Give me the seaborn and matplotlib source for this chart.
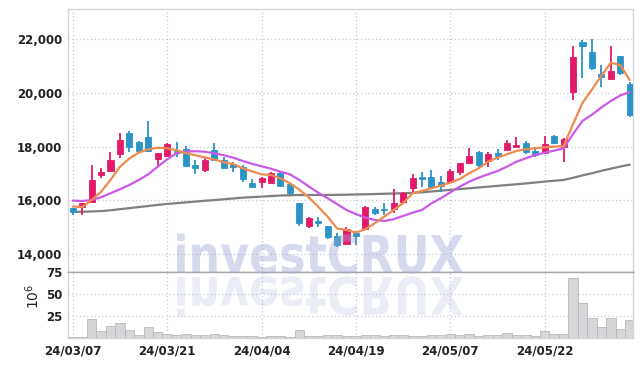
import numpy as np
import matplotlib
matplotlib.use('Agg')
import matplotlib.pyplot as plt
import seaborn as sns
from matplotlib import font_manager
from matplotlib.textpath import TextPath
from matplotlib.patches import PathPatch
from matplotlib.font_manager import FontProperties
from matplotlib.transforms import Affine2D, IdentityTransform

# trading days shown (yy/mm/dd)
dates = ['24/03/07', '24/03/08', '24/03/11', '24/03/12', '24/03/13', '24/03/14', '24/03/15',
         '24/03/18', '24/03/19', '24/03/20', '24/03/21', '24/03/22', '24/03/25', '24/03/26',
         '24/03/27', '24/03/28', '24/03/29', '24/04/01', '24/04/02', '24/04/03', '24/04/04',
         '24/04/05', '24/04/08', '24/04/09', '24/04/11', '24/04/12', '24/04/15', '24/04/16',
         '24/04/17', '24/04/18', '24/04/19', '24/04/22', '24/04/23', '24/04/24', '24/04/25',
         '24/04/26', '24/04/29', '24/04/30', '24/05/02', '24/05/03', '24/05/07', '24/05/08',
         '24/05/09', '24/05/10', '24/05/13', '24/05/14', '24/05/16', '24/05/17', '24/05/20',
         '24/05/21', '24/05/22', '24/05/23', '24/05/24', '24/05/27', '24/05/28', '24/05/29',
         '24/05/30', '24/05/31', '24/06/03', '24/06/04']

opens = [15720, 15740, 15930, 16950, 17110, 17720, 18500, 18160, 18350, 17530,
         17670, 17830, 17900, 17320, 17140, 17880, 17500, 17340, 17230, 16640,
         16700, 16640, 17010, 16600, 15890, 15050, 15230, 15045, 14670, 14380,
         14800, 14930, 15680, 15680, 15670, 15950, 16470, 16880, 16880, 16670,
         16670, 17050, 17380, 17790, 17470, 17750, 17880, 17980, 18130, 17840,
         17750, 18400, 17980, 20050, 21910, 21530, 20700, 20510, 21380, 20330]
closes = [15570, 15890, 16760, 17050, 17500, 18250, 18000, 17850, 17850, 17750,
          18090, 17800, 17290, 17220, 17520, 17500, 17220, 17250, 16790, 16510,
          16850, 17010, 16550, 16260, 15150, 15330, 15170, 14620, 14340, 14920,
          14670, 15740, 15540, 15650, 15910, 16260, 16850, 16800, 16510, 16550,
          17090, 17380, 17650, 17320, 17720, 17650, 18130, 18060, 17810, 17690,
          18090, 18130, 18290, 21330, 21760, 20930, 20600, 20810, 20760, 19180]
highs = [15730, 15900, 17320, 17200, 17810, 18500, 18600, 18210, 18960, 17760,
         18150, 18190, 18010, 17500, 17570, 18130, 17600, 17420, 17300, 16800,
         16860, 17070, 17050, 16700, 15900, 15390, 15390, 15060, 14770, 15000,
         14840, 15800, 15770, 15910, 16410, 16300, 16970, 17050, 17130, 16920,
         17170, 17390, 17940, 17840, 17790, 17900, 18250, 18370, 18210, 18000,
         18400, 18440, 18310, 21760, 21980, 22000, 21040, 21760, 21390, 20420]
lows = [15450, 15460, 15900, 16820, 17100, 17590, 17790, 17810, 17810, 17250,
        17660, 17630, 17250, 16970, 17050, 17460, 17190, 17070, 16700, 16470,
        16470, 16630, 16530, 16190, 15060, 14980, 15020, 14550, 14280, 14370,
        14340, 14920, 15460, 15460, 15540, 15940, 16320, 16510, 16470, 16300,
        16640, 16950, 17370, 17255, 17255, 17500, 17870, 17970, 17730, 17630,
        17740, 18090, 17440, 19740, 20550, 20870, 20210, 20480, 20680, 19090]

# moving averages
ma5 = [15770, 15750, 16010, 16320, 16760, 17250, 17560, 17780, 17900, 17960,
       17940, 17870, 17760, 17680, 17600, 17520, 17420, 17350, 17195, 17080,
       16970, 16945, 16820, 16636, 16400, 16115, 15765, 15392, 14950, 14900,
       14800, 14921, 15145, 15392, 15641, 15900, 16264, 16350, 16450, 16547,
       16659, 16797, 17009, 17195, 17441, 17590, 17717, 17840, 17903, 17940,
       17977, 18000, 18026, 18840, 19630, 20130, 20640, 21130, 21040, 20480]
ma10 = [15990, 15975, 16010, 16115, 16264, 16413, 16573, 16759, 16971, 17255,
        17530, 17754, 17820, 17830, 17810, 17754, 17680, 17590, 17470, 17360,
        17270, 17180, 17068, 16971, 16760, 16520, 16286, 16077, 15860, 15641,
        15490, 15355, 15269, 15230, 15300, 15420, 15540, 15641, 15891, 16077,
        16301, 16510, 16696, 16845, 16971, 17095, 17255, 17441, 17567, 17691,
        17776, 17851, 17940, 18470, 18960, 19190, 19460, 19700, 19910, 20030]
ma_long = [15570, 15575, 15585, 15600, 15630, 15670, 15710, 15750, 15790, 15830,
           15865, 15895, 15925, 15955, 15985, 16010, 16040, 16070, 16100, 16120,
           16140, 16160, 16180, 16190, 16200, 16200, 16200, 16200, 16205, 16210,
           16220, 16225, 16235, 16245, 16255, 16265, 16280, 16300, 16330, 16360,
           16390, 16420, 16450, 16480, 16510, 16540, 16570, 16600, 16630, 16665,
           16700, 16730, 16760, 16840, 16930, 17010, 17100, 17180, 17260, 17330]

# volume, millions of shares
volume = [1, 1, 22, 8, 14, 17, 9, 4, 13, 7,
          5, 4, 5, 4, 3.5, 4.6, 3.5, 2.5, 2.5, 2, 1.5,
          2.5, 2, 1.5, 9, 2.5, 2, 3.5, 3, 2.5,
          2, 3.5, 3, 2.5, 3.5, 3, 2.5, 2, 4, 3,
          4.6, 3.5, 4.6, 2.5, 3.5, 3.5, 6, 3.5, 3.5, 2.5,
          8, 4.6, 4.6, 68.6, 39.5, 23.2, 13, 23.2, 10.5, 21]

up_color = '#e3196a'
down_color = '#2b94c7'
grid_color = '#c5c9dc'
text_color = '#222222'

names = {f.name for f in font_manager.fontManager.ttflist}
if 'Liberation Sans Narrow' in names:
    tick_font, tick_size = 'Liberation Sans Narrow', 11
else:
    tick_font, tick_size = 'DejaVu Sans', 8.5

sns.set_style('white')

fig = plt.figure(figsize=(6.42, 3.66), dpi=100)
W, H = 642, 366
ax = fig.add_axes([68 / W, (H - 272) / H, 565 / W, 263 / H])
axv = fig.add_axes([68 / W, (H - 338) / H, 565 / W, 66 / H], sharex=ax)

x = np.arange(len(dates))
o = np.array(opens)
c = np.array(closes)
colors = [up_color if cc >= oo else down_color for oo, cc in zip(o, c)]

# candles
ax.vlines(x, lows, highs, colors=colors, linewidth=1.3, zorder=3)
body_h = np.maximum(np.abs(c - o), 25)
ax.bar(x, body_h, bottom=np.minimum(o, c), width=0.64, color=colors,
       edgecolor=colors, linewidth=0.6, zorder=4)

# moving averages
sns.lineplot(x=x, y=ma_long, ax=ax, color='#7f7f7f', linewidth=1.6, legend=False, zorder=2)
sns.lineplot(x=x, y=ma10, ax=ax, color='#c95ae8', linewidth=1.6, legend=False, zorder=5)
sns.lineplot(x=x, y=ma5, ax=ax, color='#ef8a4e', linewidth=1.6, legend=False, zorder=5)

# volume
sns.barplot(x=x, y=volume, ax=axv, native_scale=True, width=1.0, color='#d6d6d9',
            saturation=1, edgecolor='#b9b9bd', linewidth=0.6, errorbar=None, zorder=3)

ax.set_xlim(-0.5, 59.35)
ax.set_ylim(13330, 23130)
axv.set_ylim(0, 75.5)

ax.set_yticks([14000, 16000, 18000, 20000, 22000])
ax.set_yticklabels([f'{v:,}' for v in [14000, 16000, 18000, 20000, 22000]])
axv.set_yticks([25, 50, 75])
axv.set_xticks(x[::10])
axv.set_xticklabels(dates[::10])
plt.setp(ax.get_xticklabels(), visible=False)

for a in (ax, axv):
    a.grid(True, color=grid_color, linestyle=(0, (1, 2)), linewidth=0.9)
    a.set_axisbelow(True)
    a.tick_params(length=0, pad=4, labelcolor=text_color)
    for lab in a.get_xticklabels() + a.get_yticklabels():
        lab.set_fontfamily(tick_font)
        lab.set_fontsize(tick_size)
        lab.set_fontweight('bold')
    for s in a.spines.values():
        s.set_color('#d3d3dc')
        s.set_linewidth(1.0)
    a.set_xlabel('')
    a.set_ylabel('')
ax.spines['bottom'].set_color('#a8a8a8')
axv.spines['top'].set_color('#a8a8a8')
axv.tick_params(axis='x', pad=5)

fig.text(33 / W, 1 - 296 / H, r'$10^6$', rotation=90, ha='center', va='center',
         fontsize=10, color=text_color)

# watermark with reflection
fp = FontProperties(family='DejaVu Sans', weight='bold')
tp = TextPath((0, 0), 'investCRUX', size=55, prop=fp)
ext = tp.get_extents()
sx = 286 / ext.width
sy = 38 / (0.73 * 55)
wm = Affine2D().translate(-ext.x0, 0).scale(sx, sy).translate(177, H - 273)
fig.add_artist(PathPatch(tp, transform=wm + IdentityTransform(), facecolor='#9ea7d2',
                         edgecolor='none', alpha=0.42, zorder=6))
rf = Affine2D().translate(-ext.x0, 0).scale(sx, -sy).translate(177, H - 277)
fig.add_artist(PathPatch(tp, transform=rf + IdentityTransform(), facecolor='#9ea7d2',
                         edgecolor='none', alpha=0.2, zorder=6))

fig.savefig('out.png', dpi=100)
